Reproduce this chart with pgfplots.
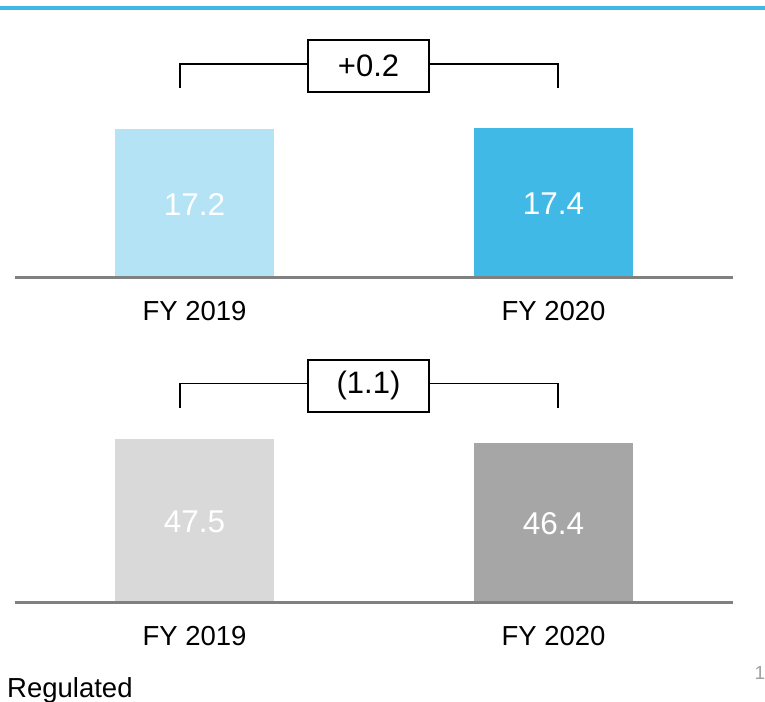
\documentclass[border=0pt]{standalone}
\usepackage{pgfplots}
\pgfplotsset{compat=1.18}
\usepackage{fontspec}
\setmainfont{Liberation Sans}
\definecolor{lblue}{HTML}{B3E3F5}
\definecolor{dblue}{HTML}{41B9E6}
\definecolor{lgray}{HTML}{D9D9D9}
\definecolor{dgray}{HTML}{A6A6A6}
\definecolor{axgray}{HTML}{808080}
\definecolor{pgnum}{HTML}{A0A0A0}

\pgfplotsset{panel/.style={
  scale only axis, width=718pt, xmin=-0.5, xmax=1.5, ymin=0,
  axis x line=bottom, axis y line=none,
  axis line style={axgray, line width=3pt, -},
  xtick={0,1}, xticklabels={FY 2019, FY 2020}, major tick length=0pt,
  xticklabel style={anchor=base, yshift=-43pt, font=\fontsize{27.5}{32}\selectfont},
  ytick=\empty, clip=false, axis on top,
  ybar, bar width=159pt, bar shift=0pt,
},
vlabel/.style={draw=none, fill=none, nodes near coords, point meta=explicit symbolic,
  every node near coord/.style={anchor=center, text=white, font=\fontsize{31.5}{36}\selectfont}},
}
\tikzset{deltabox/.style={draw=black, line width=1.6pt, fill=white, minimum width=121pt, minimum height=52pt,
  inner sep=0pt, font=\fontsize{31}{36}\selectfont}}

\begin{document}
\begin{tikzpicture}
\useasboundingbox (-15pt,-424pt) rectangle (750pt,277pt);
% top blue rule
\draw[dblue, line width=4pt] (-15pt,269pt) -- (750pt,269pt);

% top panel
\begin{axis}[panel, at={(0pt,0pt)}, anchor=south west, ymax=28, height=240.5pt]
\addplot[fill=lblue, draw=none] coordinates {(0,17.2)};
\addplot[fill=dblue, draw=none] coordinates {(1,17.4)};
\addplot[vlabel] coordinates {(0,8.45)[17.2] (1,8.55)[17.4]};
\draw[black, line width=1.6pt] (axis cs:-0.0404,22.0) |- (axis cs:1.0125,24.8) -- (axis cs:1.0125,22.0);
\node[deltabox] at (axis cs:0.4847,24.56) {+0.2};
\end{axis}

% bottom panel
\begin{axis}[panel, at={(0pt,-325pt)}, anchor=south west, ymax=70, height=240.45pt]
\addplot[fill=lgray, draw=none] coordinates {(0,47.5)};
\addplot[fill=dgray, draw=none] coordinates {(1,46.4)};
\addplot[vlabel] coordinates {(0,23.4)[47.5] (1,22.9)[46.4]};
\draw[black, line width=1.6pt] (axis cs:-0.0404,56.5) |- (axis cs:1.0125,63.6) -- (axis cs:1.0125,56.5);
\node[deltabox] at (axis cs:0.4847,62.9) {(1.1)};
\end{axis}

\node[anchor=base west, inner sep=0pt, font=\fontsize{27.5}{32}\selectfont] at (-8pt,-420pt) {Regulated};
\node[anchor=base, inner sep=0pt, text=pgnum, font=\fontsize{19}{22}\selectfont] at (745pt,-402pt) {1};
\end{tikzpicture}
\end{document}
